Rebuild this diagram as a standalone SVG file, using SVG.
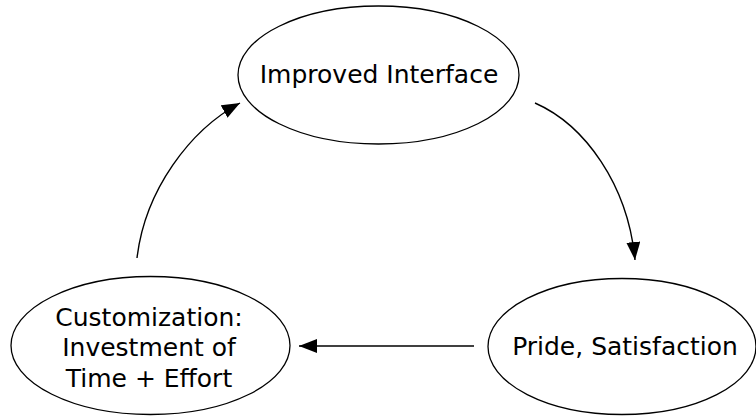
<svg xmlns="http://www.w3.org/2000/svg" width="756" height="416" viewBox="0 0 756 416">
<style>
.node ellipse{fill:#fff;stroke:#000;stroke-width:1.3}
.node text{font-family:"DejaVu Sans",sans-serif;font-size:25px;fill:#000;text-anchor:middle}
.edge{fill:none;stroke:#000;stroke-width:1.4}
</style>
<defs>
<marker id="ah" markerUnits="userSpaceOnUse" markerWidth="20" markerHeight="14" refX="18" refY="7" orient="auto">
<path d="M0,0 L18,7 L0,14 Z" fill="#000"/>
</marker>
</defs>
<rect width="756" height="416" fill="#fff"/>
<g id="n-interface" class="node">
<ellipse cx="378.5" cy="75" rx="140.5" ry="69"/>
<text x="379" y="83">Improved Interface</text>
</g>
<g id="n-pride" class="node">
<ellipse cx="622" cy="346.5" rx="134" ry="68"/>
<text x="625" y="355">Pride, Satisfaction</text>
</g>
<g id="n-custom" class="node">
<ellipse cx="150.5" cy="345.5" rx="139.5" ry="69"/>
<text x="149" y="326">Customization:</text>
<text x="149" y="356">Investment of</text>
<text x="149" y="387">Time + Effort</text>
</g>
<g id="connectors">
<path class="edge" d="M535,103 C585,125 628,185 635,260" marker-end="url(#ah)"/>
<path class="edge" d="M474,346 L299,346" marker-end="url(#ah)"/>
<path class="edge" d="M137,258 C145,190 190,130 240,103" marker-end="url(#ah)"/>
</g>
</svg>
